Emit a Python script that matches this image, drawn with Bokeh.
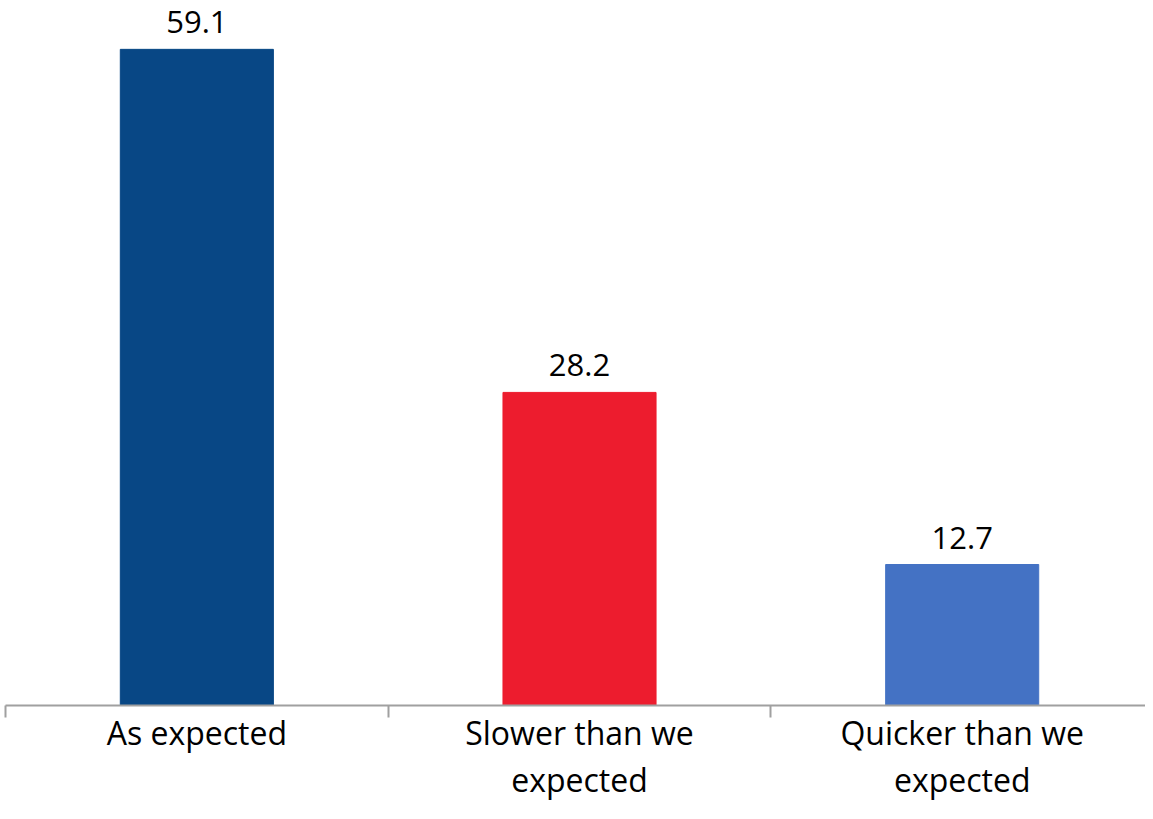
from bokeh.plotting import figure
from bokeh.models import Range1d, FixedTicker, ColumnDataSource
from bokeh.core.properties import value
from bokeh.embed import file_html
from bokeh.resources import INLINE

categories = ["As expected", "Slower than we\nexpected", "Quicker than we\nexpected"]
values = [59.1, 28.2, 12.7]
colors = ["#084785", "#ED1C2E", "#4472C4"]
positions = [0.5, 1.5, 2.5]
labels = ["59.1", "28.2", "12.7"]

src = ColumnDataSource(dict(x=positions, top=values, color=colors, label=labels))

p = figure(width=1145, height=803, output_backend="svg", toolbar_location=None,
           x_range=Range1d(0, 2.979), y_range=Range1d(0, 63.5),
           min_border_left=5, min_border_right=0, min_border_top=0, min_border_bottom=98)
p.outline_line_color = None
p.grid.visible = False
p.yaxis.visible = False
p.background_fill_color = "white"

p.vbar(x="x", top="top", width=0.4, color="color", source=src)
p.text(x="x", y="top", text="label", source=src, text_align="center", text_baseline="bottom",
       y_offset=-16, text_font=value("Open Sans"), text_font_size="31px", text_color="#000000")

ax = p.xaxis[0]
ax.ticker = FixedTicker(ticks=positions, minor_ticks=[0, 1, 2, 3])
ax.major_label_overrides = {0.5: categories[0], 1.5: categories[1], 2.5: categories[2]}
ax.major_tick_out = 0
ax.major_tick_in = 0
ax.minor_tick_out = 12
ax.minor_tick_in = 0
ax.minor_tick_line_color = "#A0A0A0"
ax.minor_tick_line_width = 2
ax.axis_line_color = "#A0A0A0"
ax.axis_line_width = 2
ax.major_label_text_font = "Open Sans"
ax.major_label_text_font_size = "32px"
ax.major_label_text_line_height = 1.1
ax.major_label_text_color = "#000000"
ax.major_label_standoff = -7

open("out.html", "w").write(file_html(p, INLINE))
